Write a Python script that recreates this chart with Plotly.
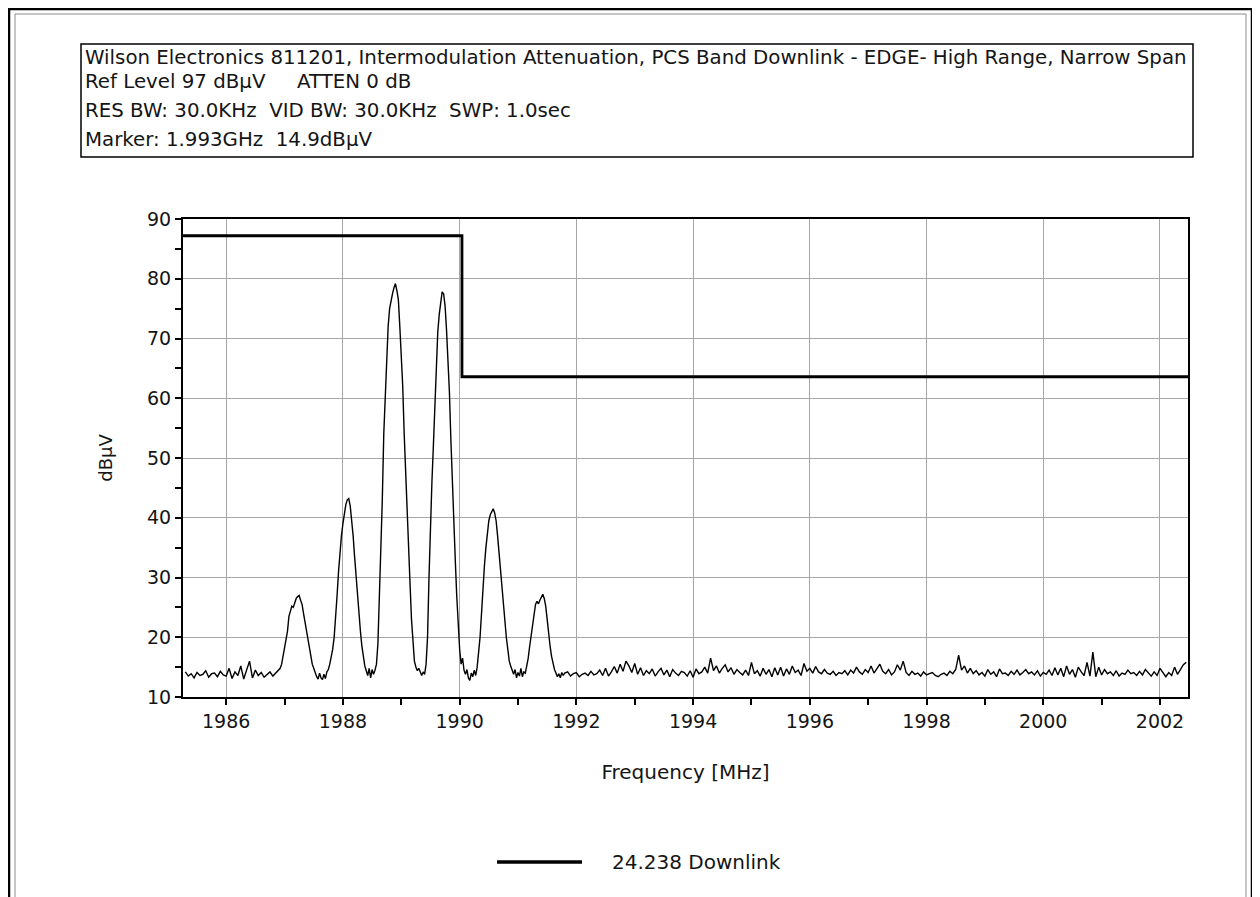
import numpy as np
import plotly.graph_objects as go

# ---------------- data ----------------
title_lines = [
    "Wilson Electronics 811201, Intermodulation Attenuation, PCS Band Downlink - EDGE- High Range, Narrow Span",
    "Ref Level 97 dB\u00b5V     ATTEN 0 dB",
    "RES BW: 30.0KHz  VID BW: 30.0KHz  SWP: 1.0sec",
    "Marker: 1.993GHz  14.9dB\u00b5V",
]
series_name = "24.238 Downlink"

# sweep segment 1 : 1985.30 .. 1986.90 MHz, 0.05 MHz step
seg1_start, seg1_step = 1985.30, 0.05
seg1_dbuv = [14.2, 13.5, 13.9, 13.2, 14.1, 13.6, 13.8, 14.4, 13.3, 13.9,
             14.0, 13.4, 14.3, 13.7, 13.5, 14.8, 13.1, 14.2, 13.6, 15.2,
             13.0, 14.4, 16.0, 13.2, 14.5, 13.6, 14.1, 13.3, 13.8, 14.2,
             13.5, 14.0, 14.6]

# sweep segment 2 : 1986.925 .. 1991.800 MHz, 0.025 MHz step (intermod peaks)
seg2_start, seg2_step = 1986.925, 0.025
seg2_dbuv = [14.8, 15.5, 16.8, 18.5, 19.8, 21.0, 23.5, 24.5,
             25.2, 25.0, 25.8, 26.5, 26.8, 27.0, 26.2, 25.5,
             24.0, 22.5, 21.0, 19.5, 18.0, 16.8, 15.5, 14.8,
             14.0, 13.4, 13.0, 14.0, 13.2, 12.9, 13.8, 13.1,
             14.2, 14.6, 15.5, 16.5, 18.0, 20.0, 23.0, 27.0,
             31.0, 34.5, 37.0, 39.0, 41.0, 42.2, 43.0, 43.2,
             42.0, 40.0, 37.0, 33.5, 30.0, 27.0, 24.0, 21.0,
             18.5, 16.5, 15.2, 14.4, 13.6, 14.8, 13.2, 14.6,
             13.8, 14.5, 15.5, 19.0, 26.0, 35.0, 43.0, 54.0,
             61.0, 68.0, 72.0, 75.0, 76.5, 77.5, 78.5, 79.2,
             78.0, 76.5, 72.0, 68.0, 62.0, 54.0, 47.0, 42.0,
             36.0, 29.0, 23.0, 19.0, 16.0, 15.0, 14.4, 14.8,
             14.0, 13.6, 14.2, 13.8, 15.5, 20.0, 30.0, 40.0,
             46.0, 52.0, 59.0, 65.0, 71.0, 74.0, 76.5, 77.8,
             77.5, 75.5, 71.5, 67.0, 61.0, 53.0, 45.0, 40.0,
             33.0, 27.0, 22.0, 18.0, 15.5, 16.5, 14.5, 13.8,
             14.6, 13.2, 12.8, 14.0, 13.4, 14.5, 13.6, 15.0,
             17.5, 20.0, 24.0, 28.5, 32.0, 35.0, 37.5, 39.5,
             40.5, 41.0, 41.5, 40.8, 39.5, 37.0, 34.0, 31.5,
             28.5, 25.0, 22.0, 20.0, 18.0, 16.0, 15.2, 14.3,
             13.8, 14.6, 13.2, 14.1, 13.5, 14.8, 13.4, 14.2,
             14.0, 15.2, 16.5, 18.5, 20.5, 22.5, 24.5, 25.5,
             26.0, 25.6, 26.2, 26.8, 27.2, 26.5, 25.2, 23.0,
             20.5, 18.5, 16.8, 15.5, 14.6, 14.0, 13.4, 13.9,
             13.2, 14.1, 13.6, 14.0]

# sweep segment 3 : 1991.85 .. 2002.45 MHz, 0.05 MHz step
seg3_start, seg3_step = 1991.85, 0.05
seg3_dbuv = [14.2, 13.5, 13.9, 14.1, 13.4, 13.8, 14.0, 13.6, 14.3, 13.7,
             13.9, 14.5, 13.6, 14.8, 13.5, 14.2, 15.1, 14.0, 15.5, 14.3,
             16.0, 15.2, 14.1, 15.6, 13.8, 14.9, 13.6, 14.4, 13.9, 14.7,
             13.5, 14.2, 14.8, 13.7, 14.5, 13.4, 14.6, 14.0, 13.6, 14.3,
             14.1, 13.5, 14.4, 13.3, 14.7, 13.9, 14.2, 15.0, 14.0, 16.5,
             14.4, 15.2, 14.0, 14.8, 15.4, 14.2, 14.9, 13.8, 14.6, 14.1,
             13.7, 14.5, 13.6, 15.8, 13.9, 14.4, 13.5, 14.8, 13.8, 14.6,
             13.4, 14.9, 13.7, 15.0, 13.5, 14.7, 13.8, 15.2, 14.1, 14.5,
             13.6, 15.6, 14.3, 14.8, 14.0, 15.1, 14.2, 13.9, 14.6, 14.0,
             13.8, 14.3, 13.6, 14.1, 13.9, 14.4, 13.7, 14.5, 14.0, 15.0,
             14.2, 13.8, 14.6, 14.1, 15.2, 14.0, 14.7, 15.5, 14.3, 13.9,
             14.6, 13.7, 14.2, 15.4, 14.5, 16.0, 14.1, 13.6, 14.3, 13.8,
             14.0, 13.5, 14.2, 13.7, 13.9, 14.1, 13.6, 13.4, 13.8, 14.0,
             13.6, 14.3, 13.9, 14.6, 17.0, 14.5, 15.2, 14.0, 14.8, 13.9,
             14.4, 13.7, 14.1, 13.5, 14.6, 13.8, 14.2, 13.4, 14.7, 13.9,
             14.0, 13.6, 14.3, 13.8, 14.5, 13.7, 14.1, 14.6, 13.9, 14.2,
             13.7, 14.4, 13.5, 14.1, 13.8, 14.5, 13.6, 14.9, 13.7, 14.8,
             13.4, 15.2, 13.8, 14.6, 13.3, 15.0, 14.2, 13.6, 15.8, 13.5,
             17.5, 13.4, 15.0, 13.7, 14.6, 13.9, 14.2, 13.6, 14.4, 13.5,
             14.0, 13.8, 14.5, 13.9, 14.1, 13.6, 14.3, 13.7, 14.6, 14.0,
             13.5, 14.2, 13.6, 14.8, 14.0, 13.4, 14.1, 13.6, 15.0, 13.8,
             14.6, 15.4, 15.8]

# limit line (step)
limit_freq = [1985.26, 1990.04, 1990.04, 2002.48]
limit_dbuv = [87.2, 87.2, 63.6, 63.6]

x_range = [1985.26, 2002.48]
y_range = [10, 90]
x_tickvals = [1986, 1988, 1990, 1992, 1994, 1996, 1998, 2000, 2002]
y_tickvals = [10, 20, 30, 40, 50, 60, 70, 80, 90]

# ---------------- build sweep ----------------
def seg(start, step, vals):
    return start + step * np.arange(len(vals))

freq = np.concatenate([seg(seg1_start, seg1_step, seg1_dbuv),
                       seg(seg2_start, seg2_step, seg2_dbuv),
                       seg(seg3_start, seg3_step, seg3_dbuv)])
level = np.concatenate([seg1_dbuv, seg2_dbuv, seg3_dbuv])

# ---------------- layout geometry ----------------
# positions below are screen pixels; the page body offsets the figure by 8 px
OFF = 8
W, H = 1260, 897
L, R, T, B = 183 - OFF, 1188 - OFF, 219 - OFF, 697 - OFF
PW, PH = R - L, B - T

def px(x):
    return (x - OFF - L) / PW

def py(y):
    return (B - (y - OFF)) / PH

FONT = "DejaVu Sans, Liberation Sans, Arial, sans-serif"
TXT = "#151515"

fig = go.Figure()
fig.add_trace(go.Scatter(x=limit_freq, y=limit_dbuv, mode="lines",
                         line=dict(color="black", width=2.8),
                         showlegend=False, hoverinfo="skip"))
fig.add_trace(go.Scatter(x=freq, y=level, mode="lines", name=series_name,
                         line=dict(color="black", width=1.4),
                         showlegend=False))

shapes = []
# outer page frames
shapes.append(dict(type="rect", xref="paper", yref="paper",
                   x0=px(9), x1=px(1252), y0=py(915), y1=py(9),
                   line=dict(color="black", width=2.5)))
shapes.append(dict(type="rect", xref="paper", yref="paper",
                   x0=px(15), x1=px(1246), y0=py(915), y1=py(14),
                   line=dict(color="#8c8c8c", width=1)))
# header box
shapes.append(dict(type="rect", xref="paper", yref="paper",
                   x0=px(81), x1=px(1193), y0=py(157), y1=py(44),
                   line=dict(color="black", width=1.5)))
# legend line
shapes.append(dict(type="line", xref="paper", yref="paper",
                   x0=px(497), x1=px(582), y0=py(862), y1=py(862),
                   line=dict(color="black", width=3.5)))

annotations = []
line_y = [57, 82, 111, 139]
for txt, yy in zip(title_lines, line_y):
    annotations.append(dict(text=txt, xref="paper", yref="paper",
                            x=px(83), y=py(yy), xanchor="left", yanchor="middle",
                            showarrow=False,
                            font=dict(family=FONT, size=19.8, color=TXT)))
annotations.append(dict(text=series_name, xref="paper", yref="paper",
                        x=px(610), y=py(862), xanchor="left", yanchor="middle",
                        showarrow=False,
                        font=dict(family=FONT, size=20, color=TXT)))

fig.update_layout(
    width=W, height=H,
    margin=dict(l=L, r=W - R, t=T, b=H - B),
    paper_bgcolor="white", plot_bgcolor="white",
    showlegend=False,
    shapes=shapes, annotations=annotations,
    font=dict(family=FONT, size=19, color=TXT),
    xaxis=dict(range=x_range, tickvals=x_tickvals,
               showgrid=True, gridcolor="#a6a6a6", gridwidth=1,
               showline=True, linecolor="black", linewidth=2, mirror=True,
               ticks="outside", ticklen=6, tickwidth=1.5, tickcolor="black",
               minor=dict(dtick=1, ticks="outside", ticklen=6, tickwidth=1.5,
                          tickcolor="black", showgrid=False),
               zeroline=False,
               tickfont=dict(family=FONT, size=19, color=TXT),
               title=dict(text="Frequency [MHz]", standoff=34,
                          font=dict(family=FONT, size=20, color=TXT))),
    yaxis=dict(range=y_range, tickvals=y_tickvals,
               showgrid=True, gridcolor="#a6a6a6", gridwidth=1,
               showline=True, linecolor="black", linewidth=2, mirror=True,
               ticks="outside", ticklen=6, tickwidth=1.5, tickcolor="black",
               minor=dict(dtick=5, ticks="outside", ticklen=6, tickwidth=1.5,
                          tickcolor="black", showgrid=False),
               zeroline=False,
               tickfont=dict(family=FONT, size=19, color=TXT),
               title=dict(text="dB\u00b5V", standoff=30,
                          font=dict(family=FONT, size=18, color=TXT))),
)

fig.write_html("out.html")
